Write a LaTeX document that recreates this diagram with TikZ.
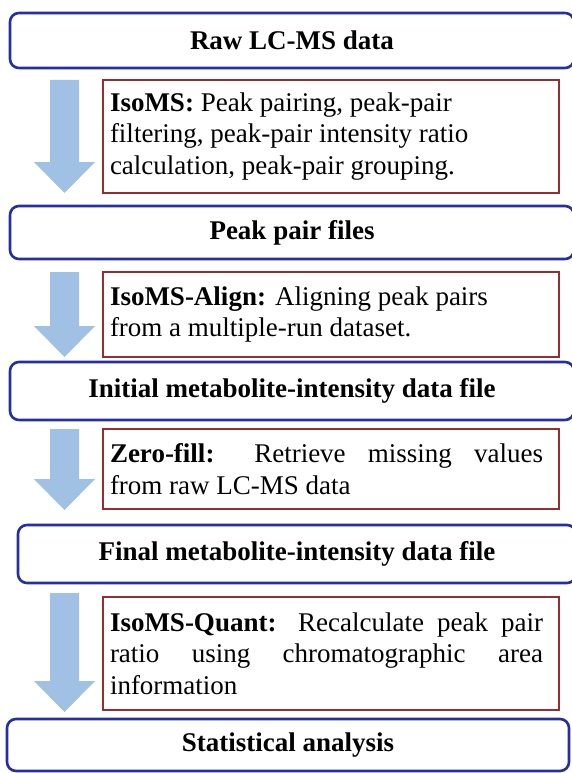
\documentclass[tikz,border=0pt]{standalone}
\usepackage{fontspec}
\setmainfont{Liberation Serif}
\definecolor{boxblue}{RGB}{38,46,165}
\definecolor{boxred}{RGB}{150,45,48}
\definecolor{arrowblue}{RGB}{160,192,228}
\newcommand{\blkarrow}[2]{%
  \fill[arrowblue] (50,#1) -- (79,#1) -- (79,#2-31) -- (95,#2-31) -- (64.5,#2) -- (34,#2-31) -- (50,#2-31) -- cycle;}
\begin{document}
\begin{tikzpicture}[x=1pt,y=-1pt,
  bluebox/.style={draw=boxblue,line width=2.6pt,rounded corners=9pt,fill=white,inner sep=0pt,
    font=\fontsize{27}{32}\selectfont\bfseries},
  redbox/.style={draw=boxred,line width=2.4pt,fill=white,inner sep=0pt,minimum width=456pt,
    font=\fontsize{27}{31.5}\selectfont}]
\useasboundingbox (0,0) rectangle (571,773);
\fill[white] (0,0) rectangle (571,773);
% blue boxes
\node[bluebox,minimum width=564pt,minimum height=55pt] (b1) at (292,40.5) {Raw LC-MS data};
\node[bluebox,minimum width=564pt,minimum height=53pt] (b2) at (292,232.5) {Peak pair files};
\node[bluebox,minimum width=564pt,minimum height=58pt] (b3) at (292,391) {Initial metabolite-intensity data file};
\node[bluebox,minimum width=558pt,minimum height=58pt] (b4) at (297,554) {Final metabolite-intensity data file};
\node[bluebox,minimum width=562pt,minimum height=52pt] (b5) at (288,745) {Statistical analysis};
% red boxes
\node[redbox,minimum height=113pt] (r1) at (331,136.5) {\parbox{456pt}{\hspace*{7pt}\parbox{433pt}{%
  \textbf{IsoMS:} Peak pairing, peak-pair\\ filtering, peak-pair intensity ratio\\ calculation, peak-pair grouping.}}};
\node[redbox,minimum height=85pt] (r2) at (331,314.5) {\parbox{456pt}{\hspace*{7pt}\parbox{433pt}{%
  \textbf{IsoMS-Align:} Aligning peak pairs\\ from a multiple-run dataset.}}};
\node[redbox,minimum height=80pt] (r3) at (331,469) {\parbox{456pt}{\hspace*{7pt}\parbox{433pt}{%
  \textbf{Zero-fill:} Retrieve missing values\linebreak from raw LC-MS data}}};
\node[redbox,minimum height=113pt] (r4) at (331,653.5) {\parbox{456pt}{\hspace*{7pt}\parbox{433pt}{%
  \textbf{IsoMS-Quant:} Recalculate peak pair\linebreak ratio using chromatographic area\linebreak information}}};
% block arrows
\blkarrow{80}{193}
\blkarrow{272}{357}
\blkarrow{429}{510}
\blkarrow{593}{712}
\end{tikzpicture}
\end{document}
